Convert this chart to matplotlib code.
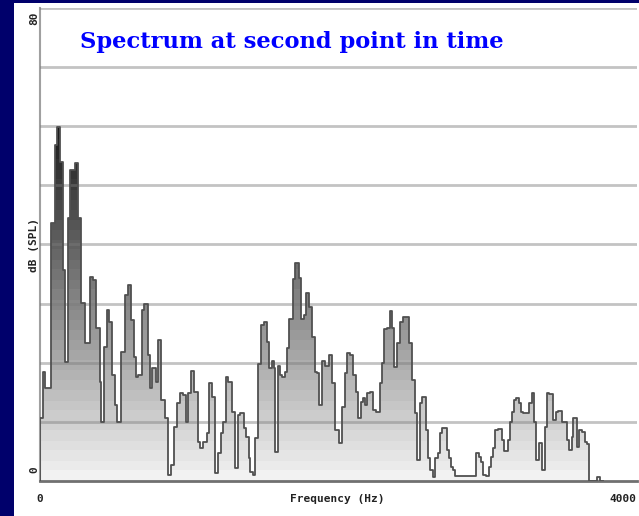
import numpy as np
import matplotlib
matplotlib.use("Agg")
import matplotlib.pyplot as plt
from matplotlib.path import Path

# 频谱台阶数据：每一级的起始频率 (Hz) 和声压级 (dB SPL)
freq_hz = [0, 20, 34, 74, 100, 114, 134, 154, 168, 188, 201, 232, 255, 277, 300, 333, 355, 377, 400, 411,
           429, 449, 462, 482, 500, 518, 541, 572, 590, 612, 630, 645, 655, 681, 699, 722, 737, 752, 775, 793,
           811, 838, 856, 878, 900, 916, 938, 960, 976, 990, 1012, 1034, 1057, 1072, 1094, 1117, 1132, 1150,
           1173, 1191, 1213, 1228, 1244, 1262, 1288, 1309, 1327, 1342, 1365, 1380, 1398, 1409, 1425, 1443,
           1461, 1483, 1499, 1521, 1536, 1554, 1566, 1577, 1593, 1610, 1621, 1639, 1655, 1670, 1693, 1711,
           1733, 1751, 1767, 1782, 1804, 1822, 1840, 1856, 1871, 1889, 1907, 1934, 1958, 1977, 2003, 2021,
           2044, 2059, 2075, 2097, 2115, 2133, 2149, 2164, 2178, 2193, 2209, 2231, 2249, 2276, 2289, 2305,
           2327, 2343, 2356, 2372, 2394, 2410, 2432, 2472, 2490, 2513, 2528, 2544, 2561, 2584, 2598, 2613,
           2635, 2649, 2665, 2680, 2693, 2725, 2738, 2754, 2769, 2783, 2921, 2939, 2955, 2970, 2988, 3010,
           3022, 3037, 3051, 3066, 3095, 3111, 3133, 3149, 3162, 3178, 3189, 3207, 3223, 3238, 3278, 3294,
           3310, 3323, 3345, 3361, 3384, 3395, 3412, 3439, 3457, 3473, 3495, 3529, 3546, 3562, 3573, 3596,
           3613, 3629, 3652, 3663, 3680, 3734, 3752]
level_db = [10.7, 18.4, 15.7, 43.7, 56.9, 59.9, 54.0, 35.7, 20.1, 44.5, 52.6, 53.8, 44.5, 30.1, 23.4, 34.5,
            34.0, 25.9, 16.8, 10.0, 22.7, 28.9, 26.9, 17.9, 12.9, 10.0, 21.8, 31.5, 33.2, 27.2, 21.0, 17.6,
            17.9, 28.9, 29.9, 21.3, 15.7, 19.1, 16.8, 23.9, 13.7, 10.7, 1.0, 2.7, 9.1, 13.2, 14.9, 14.6, 10.0,
            14.9, 18.6, 15.1, 6.6, 5.6, 6.6, 8.1, 16.6, 14.2, 1.4, 4.7, 8.1, 10.0, 17.6, 16.8, 11.7, 2.2, 11.2,
            11.5, 9.0, 7.4, 3.9, 1.5, 1.0, 7.3, 19.8, 26.4, 26.9, 23.5, 19.1, 20.3, 19.1, 4.9, 19.5, 17.9,
            17.6, 18.4, 22.5, 27.4, 34.2, 36.9, 34.3, 27.4, 28.1, 31.8, 29.4, 24.4, 18.4, 18.3, 12.9, 20.3,
            19.5, 21.3, 16.6, 8.6, 6.4, 12.5, 18.3, 21.7, 21.3, 17.9, 15.1, 10.7, 13.4, 14.0, 12.9, 14.9,
            15.1, 12.0, 11.7, 16.6, 20.0, 25.7, 25.9, 28.8, 25.9, 19.3, 23.4, 26.9, 27.7, 23.4, 17.1, 11.5,
            3.6, 13.2, 14.2, 8.6, 3.9, 1.9, 0.7, 3.9, 4.7, 8.1, 9.0, 5.2, 3.9, 2.4, 1.9, 0.8, 4.7, 4.1, 3.2,
            1.0, 0.8, 2.4, 4.1, 5.6, 8.6, 8.8, 6.9, 5.1, 6.9, 10.0, 11.7, 13.7, 14.0, 13.2, 11.7, 11.5, 13.2,
            14.9, 10.0, 3.6, 6.4, 1.9, 9.1, 14.9, 14.7, 10.3, 11.7, 11.8, 10.0, 6.9, 5.2, 7.4, 10.7, 5.8, 8.6,
            8.3, 6.6, 6.3, 0.0, 0.7, 0.0]
freq_end = 3770
y_ticks = [0, 80]
x_ticks = [0, 4000]

W, H = 639, 516
fig = plt.figure(figsize=(W / 100, H / 100), dpi=100, facecolor="#00006b")
# 白色底板
fig.patches.append(plt.Rectangle((14 / W, 0), 1, 1 - 3 / H, transform=fig.transFigure,
                                 facecolor="white", edgecolor="none", zorder=-1))

ax = fig.add_axes([40 / W, 35 / H, 597 / W, 473 / H])
ax.set_zorder(2)
ax.set_facecolor("white")
ax.set_xlim(0, 4000)
ax.set_ylim(0, 80)

xs = np.array(freq_hz + [freq_end], dtype=float)
ys = np.array(level_db + [level_db[-1]], dtype=float)

poly = ax.fill_between(xs, ys, 0, step="post", facecolor="none", edgecolor="none")
clip = Path.make_compound_path(*poly.get_paths())

# 分段灰度渐变
band = 1.7
rows = np.linspace(0, 80, 400)
q = np.floor(rows / band) * band
g = np.clip(0.95 - 0.0145 * q, 0.08, 1.0)
img = np.repeat(g[:, None, None], 3, axis=2)
im = ax.imshow(img, origin="lower", extent=[0, 4000, 0, 80], aspect="auto",
               interpolation="nearest", zorder=1)
im.set_clip_path(clip, ax.transData)

for v in range(10, 81, 10):
    ax.axhline(v, color="#7a7a7a", alpha=0.45, lw=2.0, zorder=3)

ax.step(xs, ys, where="post", color="#505050", lw=1.3, zorder=4)
ax.plot([0, 0], [0, level_db[0]], color="#505050", lw=1.3, zorder=4)

for s in ["top", "right"]:
    ax.spines[s].set_visible(False)
ax.spines["left"].set_color("#a0a0a0")
ax.spines["left"].set_linewidth(1.5)
ax.spines["bottom"].set_color("#707070")
ax.spines["bottom"].set_linewidth(2)
ax.set_xticks([])
ax.set_yticks([])

# 标题
fig.text(80 / W, 1 - 42 / H, "Spectrum at second point in time", color="#0000ff",
         fontsize=16.3, fontweight="bold", family="DejaVu Serif", va="center", ha="left")

lab = dict(color="#222222", fontsize=8, fontweight="bold", family="DejaVu Sans Mono")
fig.text(40 / W, 1 - 499 / H, str(x_ticks[0]), ha="center", va="center", **lab)
fig.text(636 / W, 1 - 499 / H, str(x_ticks[1]), ha="right", va="center", **lab)
fig.text(337 / W, 1 - 499 / H, "Frequency (Hz)", ha="center", va="center", **lab)
fig.text(34 / W, 1 - 18 / H, str(y_ticks[1]), ha="center", va="center", rotation=90, **lab)
fig.text(34 / W, 1 - 470 / H, str(y_ticks[0]), ha="center", va="center", rotation=90, **lab)
fig.text(34 / W, 1 - 245 / H, "dB (SPL)", ha="center", va="center", rotation=90, **lab)

fig.savefig("out.png", dpi=100, facecolor=fig.get_facecolor())
